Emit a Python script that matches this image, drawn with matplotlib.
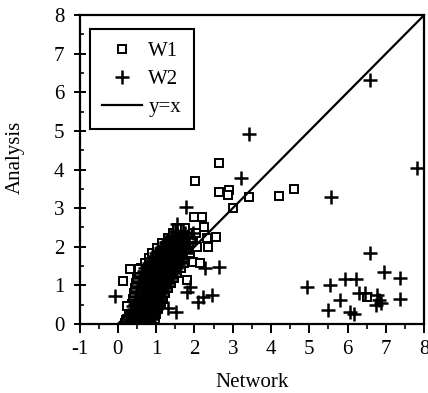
import matplotlib
matplotlib.use("Agg")
import matplotlib.pyplot as plt
from matplotlib.ticker import MultipleLocator

plt.rcParams['font.family'] = ['Liberation Serif', 'DejaVu Serif']
plt.rcParams['axes.unicode_minus'] = False

# W1 (squares) - dense band near the origin
w1_band_x = [0.18, 0.32, 0.47, 0.6, 0.74, 0.88,
             0.25, 0.4, 0.53, 0.68, 0.82, 0.97,
             0.3, 0.45, 0.58, 0.72, 0.86, 1.0,
             0.33, 0.5, 0.63, 0.78, 0.92, 1.06,
             0.38, 0.52, 0.67, 0.81, 0.96, 1.12,
             0.4, 0.55, 0.7, 0.86, 1.01, 1.18,
             0.42, 0.58, 0.74, 0.9, 1.06, 1.24,
             0.44, 0.6, 0.77, 0.94, 1.12, 1.3,
             0.47, 0.64, 0.82, 1.0, 1.18, 1.38,
             0.5, 0.68, 0.86, 1.05, 1.25, 1.46,
             0.55, 0.73, 0.92, 1.12, 1.33, 1.55,
             0.6, 0.8, 1.0, 1.2, 1.42, 1.64,
             0.7, 0.9, 1.1, 1.3, 1.52, 1.72,
             0.8, 1.0, 1.2, 1.42, 1.62, 1.8,
             0.9, 1.1, 1.3, 1.5, 1.7, 1.88,
             1.02, 1.22, 1.42, 1.62, 1.85,
             1.15, 1.35, 1.55, 1.75, 1.95,
             1.3, 1.5, 1.7, 1.92,
             1.45, 1.65, 1.85, 2.05,
             1.55, 1.75]
w1_band_y = [0.02, 0.02, 0.02, 0.02, 0.02, 0.02,
             0.14, 0.14, 0.14, 0.14, 0.14, 0.14,
             0.27, 0.27, 0.27, 0.27, 0.27, 0.27,
             0.4, 0.4, 0.4, 0.4, 0.4, 0.4,
             0.53, 0.53, 0.53, 0.53, 0.53, 0.53,
             0.66, 0.66, 0.66, 0.66, 0.66, 0.66,
             0.79, 0.79, 0.79, 0.79, 0.79, 0.79,
             0.92, 0.92, 0.92, 0.92, 0.92, 0.92,
             1.05, 1.05, 1.05, 1.05, 1.05, 1.05,
             1.18, 1.18, 1.18, 1.18, 1.18, 1.18,
             1.31, 1.31, 1.31, 1.31, 1.31, 1.31,
             1.44, 1.44, 1.44, 1.44, 1.44, 1.44,
             1.57, 1.57, 1.57, 1.57, 1.57, 1.57,
             1.7, 1.7, 1.7, 1.7, 1.7, 1.7,
             1.83, 1.83, 1.83, 1.83, 1.83, 1.83,
             1.96, 1.96, 1.96, 1.96, 1.96,
             2.09, 2.09, 2.09, 2.09, 2.09,
             2.22, 2.22, 2.22, 2.22,
             2.35, 2.35, 2.35, 2.35,
             2.48, 2.48]
# W1 scattered points
w1_out_x = [2.65, 2.02, 2.65, 2.91, 2.87, 3.43, 4.22, 4.59, 3.01, 2.0, 2.2,
            2.25, 2.55, 2.32, 2.06, 2.36, 1.97, 2.15, 1.8, 0.14, 0.23, 0.2,
            6.52, 0.54, 0.32]
w1_out_y = [4.18, 3.71, 3.42, 3.47, 3.34, 3.28, 3.32, 3.49, 3.0, 2.76, 2.76,
            2.52, 2.26, 2.22, 2.0, 1.99, 1.61, 1.57, 1.14, 1.12, 0.47, 0.1,
            0.7, 1.42, 1.42]

# W2 (plus signs) - dense band, rows between the W1 rows
w2_band_x = [0.25, 0.4, 0.55, 0.68, 0.82,
             0.3, 0.46, 0.62, 0.76, 0.9,
             0.36, 0.52, 0.66, 0.8, 0.95,
             0.4, 0.56, 0.72, 0.87, 1.02,
             0.45, 0.6, 0.76, 0.92, 1.08,
             0.48, 0.64, 0.8, 0.97, 1.14,
             0.5, 0.68, 0.85, 1.02, 1.2,
             0.54, 0.72, 0.9, 1.08, 1.28,
             0.58, 0.76, 0.95, 1.14, 1.35,
             0.62, 0.8, 1.0, 1.2, 1.42,
             0.68, 0.88, 1.08, 1.28, 1.5,
             0.76, 0.96, 1.16, 1.38, 1.6,
             0.86, 1.06, 1.26, 1.48, 1.68,
             0.96, 1.16, 1.36, 1.58,
             1.06, 1.26, 1.46, 1.66,
             1.18, 1.38, 1.58, 1.8,
             1.3, 1.5, 1.7,
             1.42, 1.62, 1.82,
             1.5, 1.7]
w2_band_y = [0.08, 0.08, 0.08, 0.08, 0.08,
             0.2, 0.2, 0.2, 0.2, 0.2,
             0.33, 0.33, 0.33, 0.33, 0.33,
             0.46, 0.46, 0.46, 0.46, 0.46,
             0.59, 0.59, 0.59, 0.59, 0.59,
             0.72, 0.72, 0.72, 0.72, 0.72,
             0.85, 0.85, 0.85, 0.85, 0.85,
             0.98, 0.98, 0.98, 0.98, 0.98,
             1.11, 1.11, 1.11, 1.11, 1.11,
             1.24, 1.24, 1.24, 1.24, 1.24,
             1.37, 1.37, 1.37, 1.37, 1.37,
             1.5, 1.5, 1.5, 1.5, 1.5,
             1.63, 1.63, 1.63, 1.63, 1.63,
             1.76, 1.76, 1.76, 1.76,
             1.89, 1.89, 1.89, 1.89,
             2.02, 2.02, 2.02, 2.02,
             2.15, 2.15, 2.15,
             2.28, 2.28, 2.28,
             2.41, 2.41]
# W2 (plus signs) - dense band, on the W1 rows between the squares
w2_fill_x = [0.25, 0.4, 0.54, 0.67, 0.81,
             0.32, 0.46, 0.6, 0.75, 0.9,
             0.38, 0.52, 0.65, 0.79, 0.93,
             0.42, 0.56, 0.7, 0.85, 0.99,
             0.45, 0.6, 0.74, 0.88, 1.04,
             0.48, 0.62, 0.78, 0.94, 1.1,
             0.5, 0.66, 0.82, 0.98, 1.15,
             0.52, 0.68, 0.86, 1.03, 1.21,
             0.56, 0.73, 0.91, 1.09, 1.28,
             0.59, 0.77, 0.96, 1.15, 1.36,
             0.64, 0.82, 1.02, 1.22, 1.44,
             0.7, 0.9, 1.1, 1.31, 1.53,
             0.8, 1.0, 1.2, 1.41, 1.62,
             0.9, 1.1, 1.31, 1.52, 1.71,
             1.0, 1.2, 1.4, 1.6, 1.79,
             1.12, 1.32, 1.52, 1.74,
             1.25, 1.45, 1.65, 1.85,
             1.4, 1.6, 1.81,
             1.55, 1.75, 1.95]
w2_fill_y = [0.02, 0.02, 0.02, 0.02, 0.02,
             0.14, 0.14, 0.14, 0.14, 0.14,
             0.27, 0.27, 0.27, 0.27, 0.27,
             0.4, 0.4, 0.4, 0.4, 0.4,
             0.53, 0.53, 0.53, 0.53, 0.53,
             0.66, 0.66, 0.66, 0.66, 0.66,
             0.79, 0.79, 0.79, 0.79, 0.79,
             0.92, 0.92, 0.92, 0.92, 0.92,
             1.05, 1.05, 1.05, 1.05, 1.05,
             1.18, 1.18, 1.18, 1.18, 1.18,
             1.31, 1.31, 1.31, 1.31, 1.31,
             1.44, 1.44, 1.44, 1.44, 1.44,
             1.57, 1.57, 1.57, 1.57, 1.57,
             1.7, 1.7, 1.7, 1.7, 1.7,
             1.83, 1.83, 1.83, 1.83, 1.83,
             1.96, 1.96, 1.96, 1.96,
             2.09, 2.09, 2.09, 2.09,
             2.22, 2.22, 2.22,
             2.35, 2.35, 2.35]
# W2 scattered points
w2_out_x = [3.43, 3.22, 5.57, 1.78, 6.59, 7.81, 6.59, 4.95, 5.54, 5.92, 6.22,
            6.96, 7.37, 5.8, 5.5, 6.07, 6.17, 6.3, 6.45, 6.78, 6.82, 6.88,
            6.75, 7.37, 1.54, 1.25, 2.65, 2.28, 1.89, 1.8, 2.1, 2.23, 2.45,
            1.32, 1.52, -0.07, 1.29]
w2_out_y = [4.91, 3.77, 3.28, 3.04, 6.32, 4.03, 1.83, 0.97, 1.01, 1.17, 1.17,
            1.34, 1.18, 0.62, 0.35, 0.3, 0.26, 0.81, 0.81, 0.75, 0.62, 0.54,
            0.5, 0.65, 2.59, 2.13, 1.48, 1.44, 0.95, 0.82, 0.58, 0.69, 0.75,
            0.41, 0.32, 0.73, 2.0]

line_x = [0, 8]
line_y = [0, 8]

w1_x = w1_band_x + w1_out_x
w1_y = w1_band_y + w1_out_y
w2_x = w2_band_x + w2_fill_x + w2_out_x
w2_y = w2_band_y + w2_fill_y + w2_out_y

fig = plt.figure(figsize=(4.28, 3.93), dpi=100)
ax = fig.add_axes([0.186, 0.1756, 0.805, 0.786])

ax.plot(w1_x, w1_y, 's', ms=6, mfc='white', mec='black', mew=1.4,
        linestyle='none', label='W1')
ax.plot(w2_x, w2_y, '+', ms=10, mec='black', mew=1.8,
        linestyle='none', label='W2')
ax.plot(line_x, line_y, '-', color='black', lw=1.6, label='y=x')

ax.set_xlim(-1, 8)
ax.set_ylim(0, 8)
ax.xaxis.set_major_locator(MultipleLocator(1))
ax.xaxis.set_minor_locator(MultipleLocator(0.5))
ax.yaxis.set_major_locator(MultipleLocator(1))
ax.yaxis.set_minor_locator(MultipleLocator(0.5))

for s in ax.spines.values():
    s.set_linewidth(1.6)

ax.tick_params(axis='x', which='major', direction='out', length=6.5,
               width=1.4, labelsize=15, pad=5)
ax.tick_params(axis='x', which='minor', direction='out', length=3.5, width=1.2)
ax.tick_params(axis='y', which='major', direction='inout', length=8,
               width=1.4, labelsize=15, pad=7)
ax.tick_params(axis='y', which='minor', direction='in', length=3, width=1.2)

ax.set_xlabel('Network', fontsize=15, labelpad=10)
ax.set_ylabel('Analysis', fontsize=15)
ax.yaxis.set_label_coords(-0.158, 0.54)

leg = ax.legend(loc='upper left', bbox_to_anchor=(0.03, 0.955),
                borderaxespad=0, fontsize=15, fancybox=False,
                edgecolor='black', framealpha=1, handlelength=1.9,
                handletextpad=0.3, labelspacing=0.4, borderpad=0.6)
leg.get_frame().set_linewidth(1.5)

fig.savefig('out.png', dpi=100)
